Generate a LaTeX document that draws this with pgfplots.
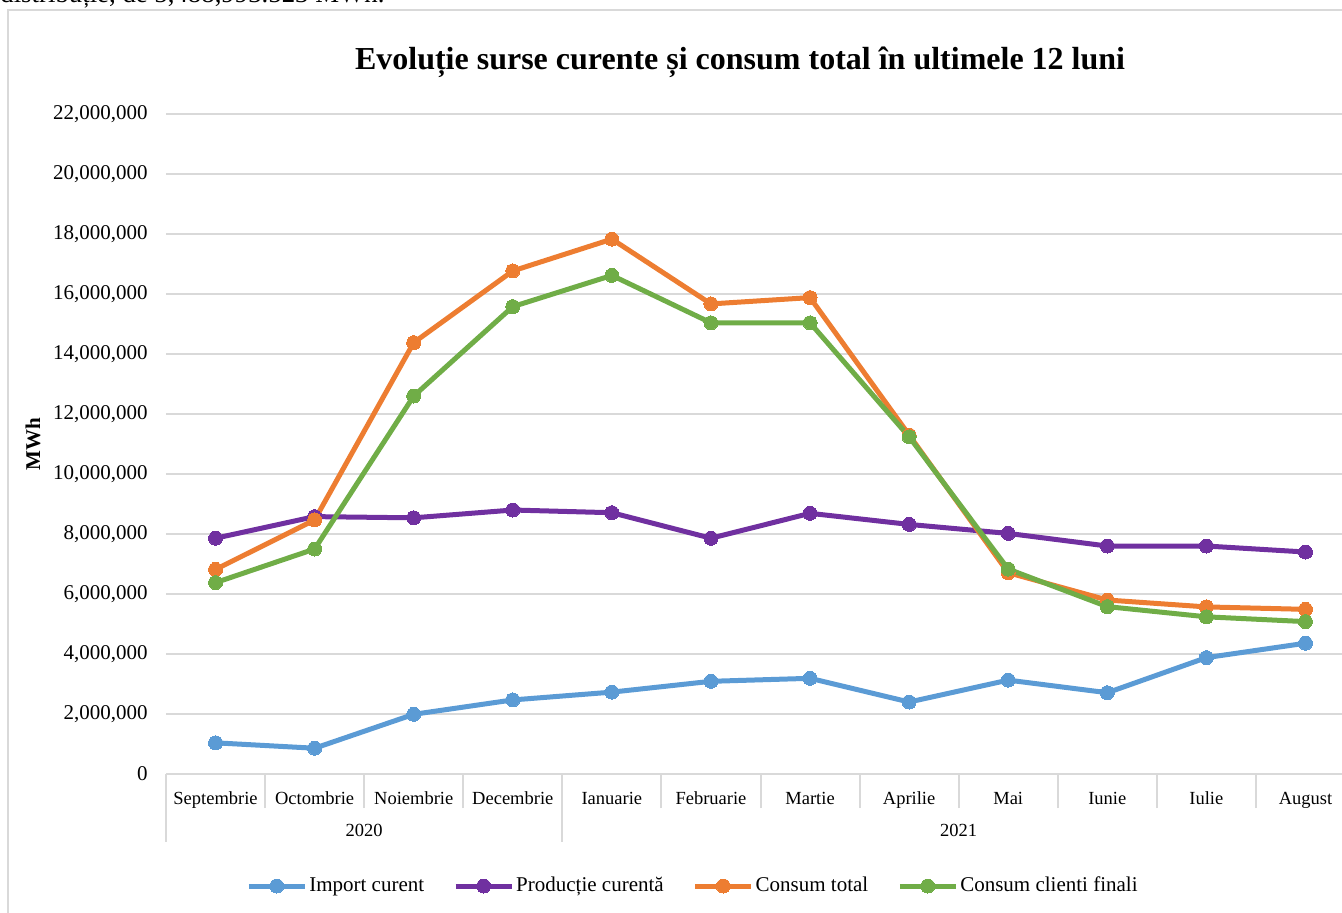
\documentclass[border=0pt]{standalone}
\usepackage{fontspec}
\setmainfont{Liberation Serif}
\usepackage{pgfplots}
\pgfplotsset{compat=1.18}
\definecolor{cblue}{HTML}{5B9BD5}
\definecolor{cpurple}{HTML}{7030A0}
\definecolor{corange}{HTML}{ED7D31}
\definecolor{cgreen}{HTML}{70AD47}
\definecolor{gridgray}{HTML}{D9D9D9}
\begin{document}
\begin{tikzpicture}
\useasboundingbox (0pt,0pt) rectangle (671pt,-456pt);
\node[anchor=base west, inner sep=0pt, font=\fontsize{13.4}{16}\selectfont] at (0pt,-1.3pt) {distribuție, de 5,488,993.523 MWh.};
\draw[gridgray, line width=1pt] (4pt,-5pt) rectangle (690pt,-470pt);
\begin{axis}[
  at={(83pt,-387pt)}, anchor=south west,
  scale only axis, width=594.5pt, height=330pt,
  xmin=-0.5, xmax=11.5, ymin=0, ymax=22000000,
  ytick distance=2000000,
  scaled y ticks=false,
  /pgf/number format/assume math mode=true,
  yticklabel style={/pgf/number format/fixed, /pgf/number format/precision=0, /pgf/number format/1000 sep={,}, anchor=east, inner sep=0pt, xshift=-9pt, font=\fontsize{10.5}{12}\selectfont},
  ymajorgrids, grid style={gridgray, line width=0.9pt},
  axis lines*=left, axis line style={-},
  x axis line style={draw=gridgray, line width=1pt},
  y axis line style={draw=none},
  ytick style={draw=none},
  xtick={0,...,11},
  xticklabels={Septembrie,Octombrie,Noiembrie,Decembrie,Ianuarie,Februarie,Martie,Aprilie,Mai,Iunie,Iulie,August},
  xtick style={draw=none}, major tick length=0pt,
  xticklabel style={anchor=base, yshift=-15pt, font=\fontsize{9.25}{11}\selectfont},
  extra x ticks={-0.5,0.5,1.5,2.5,3.5,4.5,5.5,6.5,7.5,8.5,9.5,10.5,11.5},
  extra x tick labels={},
  extra x tick style={tick align=outside, major tick length=17pt, xtick style={draw=gridgray, line width=1pt}},
  title={Evoluție surse curente și consum total în ultimele 12 luni},
  title style={at={(axis description cs:0.4828,1.0495)}, anchor=base, yshift=0pt, font=\bfseries\fontsize{16}{19}\selectfont},
  ylabel={MWh},
  every axis y label/.style={at={(axis description cs:-0.1119,0.5)}, rotate=90, anchor=center, font=\bfseries\fontsize{10.5}{12}\selectfont},
  legend style={at={(axis description cs:0.4432,-0.1697)}, anchor=center, draw=none, fill=none, legend columns=4, font=\fontsize{10.5}{12}\selectfont, nodes={inner sep=1pt}, /tikz/every even column/.append style={column sep=13.5pt}},
  legend cell align=left,
  legend image code/.code={\draw[#1, mark repeat=2, mark phase=2] plot coordinates {(0pt,0pt) (14pt,0pt) (28pt,0pt)};},
  every axis plot/.append style={line width=2.5pt, line join=round, mark=*, mark size=3.5pt},
  clip=false,
]
\addplot[color=cblue, mark options={fill=cblue, line width=0pt}] coordinates {
(0,1040000) (1,860000) (2,1990000) (3,2470000) (4,2730000) (5,3090000) (6,3190000) (7,2400000) (8,3130000) (9,2710000) (10,3880000) (11,4360000)};
\addlegendentry{Import curent}
\addplot[color=cpurple, mark options={fill=cpurple, line width=0pt}] coordinates {
(0,7860000) (1,8580000) (2,8540000) (3,8800000) (4,8710000) (5,7860000) (6,8690000) (7,8320000) (8,8020000) (9,7600000) (10,7600000) (11,7400000)};
\addlegendentry{Producție curentă}
\addplot[color=corange, mark options={fill=corange, line width=0pt}] coordinates {
(0,6820000) (1,8470000) (2,14380000) (3,16770000) (4,17830000) (5,15670000) (6,15880000) (7,11300000) (8,6710000) (9,5800000) (10,5570000) (11,5489000)};
\addlegendentry{Consum total}
\addplot[color=cgreen, mark options={fill=cgreen, line width=0pt}] coordinates {
(0,6380000) (1,7500000) (2,12600000) (3,15580000) (4,16620000) (5,15040000) (6,15040000) (7,11240000) (8,6830000) (9,5580000) (10,5240000) (11,5080000)};
\addlegendentry{Consum clienti finali}
\node[anchor=base, font=\fontsize{9.25}{11}\selectfont] at (axis cs:1.5,0) [yshift=-31pt] {2020};
\node[anchor=base, font=\fontsize{9.25}{11}\selectfont] at (axis cs:7.5,0) [yshift=-31pt] {2021};
\draw[gridgray, line width=1pt] (axis cs:-0.5,0) -- ++(0pt,-34pt);
\draw[gridgray, line width=1pt] (axis cs:3.5,0) -- ++(0pt,-34pt);
\end{axis}
\end{tikzpicture}
\end{document}
